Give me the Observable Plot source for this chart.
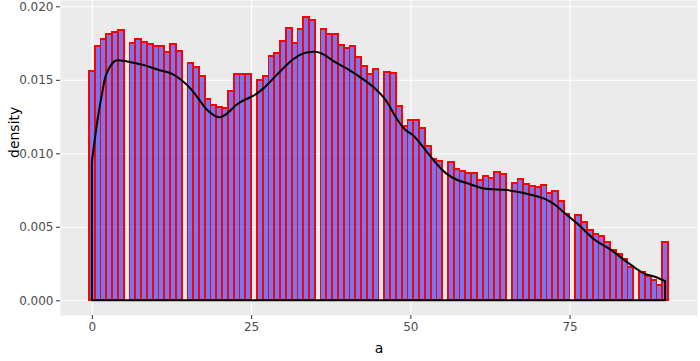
<!DOCTYPE html>
<html><head><meta charset="utf-8">
<script src="https://cdn.jsdelivr.net/npm/d3@7"></script>
<script src="https://cdn.jsdelivr.net/npm/@observablehq/plot@0.6"></script>
<style>body{margin:0;background:#fff} svg{display:block}</style>
</head><body><div id="chart"></div>
<script>
// histogram: 100 bins centred on 0 .. 90 (width 90/99), density per bin (0 = empty bin)
const binCount = 100;
const dataMin = 0, dataMax = 90;
const binDensity = [
  0.01562, 0.01728, 0.01780, 0.01810, 0.01827, 0.01837, 0,       0.01748, 0.01776, 0.01755,
  0.01741, 0.01728, 0.01728, 0.01687, 0.01741, 0.01694, 0,       0.01614, 0.01589, 0.01524,
  0.01367, 0.01331, 0.01317, 0.01310, 0.01422, 0.01537, 0.01537, 0.01537, 0,       0.01497,
  0.01524, 0.01660, 0.01680, 0.01766, 0.01850, 0.01752, 0.01844, 0.01925, 0.01905, 0,
  0.01848, 0.01810, 0.01810, 0.01735, 0.01714, 0.01728, 0.01653, 0.01592, 0.01537, 0.01571,
  0,       0.01551, 0.01544, 0.01324, 0.01184, 0.01224, 0.01224, 0.01170, 0.01048, 0.00963,
  0.00950, 0,       0.00943, 0.00895, 0.00882, 0.00868, 0.00864, 0.00820, 0.00844, 0.00830,
  0.00871, 0.00857, 0,       0.00796, 0.00823, 0.00789, 0.00780, 0.00773, 0.00782, 0.00728,
  0.00744, 0.00678, 0.00587, 0,       0.00578, 0.00535, 0.00480, 0.00449, 0.00439, 0.00395,
  0.00340, 0.00313, 0.00283, 0.00229, 0,       0.00190, 0.00167, 0.00140, 0.00106, 0.00399
];
// kernel density estimate
const curveX = [0, 0.9, 1.7, 2.2, 3.0, 3.7, 4.8, 6.1, 8.2, 10.3, 12.6, 14.0, 15.5, 17.1, 18.0, 19.3, 20.1,
  21.2, 22.7, 23.8, 25.3, 26.9, 28.5, 30.1, 31.6, 33.2, 34.5, 35.3, 36.5, 38.2, 40.3, 42.4, 44.5, 45.8,
  46.6, 47.8, 49.2, 50.5, 52.6, 54.1, 55.7, 57.3, 59.4, 61.5, 65.2, 67.8, 71.1, 72.7, 74.3, 76.5, 79.0,
  81.6, 83.7, 85.3, 86.8, 88.4, 90];
const curveY = [0.0094, 0.0123, 0.0143, 0.0153, 0.0160, 0.0163, 0.0163, 0.0162, 0.0160, 0.0157, 0.0154,
  0.0150, 0.0144, 0.0135, 0.0130, 0.01255, 0.01245, 0.0127, 0.0133, 0.0136, 0.0139, 0.0144, 0.0151, 0.0158,
  0.0164, 0.0168, 0.0169, 0.0169, 0.0167, 0.0162, 0.0157, 0.0151, 0.0144, 0.0138, 0.0133, 0.0124, 0.0116,
  0.0112, 0.0101, 0.0093, 0.0086, 0.0082, 0.0079, 0.0076, 0.0075, 0.0073, 0.0069, 0.0065, 0.0059, 0.0051,
  0.0041, 0.0034, 0.0027, 0.0022, 0.0018, 0.0016, 0.0013];
const xTicks = [0, 25, 50, 75];
const yTicks = [0, 0.005, 0.010, 0.015, 0.020];
const xLabel = "a";
const yLabel = "density";

const w = (dataMax - dataMin) / (binCount - 1);
const bins = binDensity
  .map((d, k) => ({x1: dataMin + (k - 0.5) * w, x2: dataMin + (k + 0.5) * w, d}))
  .filter(b => b.d > 0);
const dens = curveX.map((x, i) => ({x, y: curveY[i]}));

const plot = Plot.plot({
  width: 700, height: 361,
  marginLeft: 60, marginRight: 3, marginTop: 0, marginBottom: 46,
  style: {fontFamily: "DejaVu Sans", fontSize: "12px", background: "#fff", overflow: "visible"},
  x: {domain: [-5, 95]},
  y: {domain: [-0.001, 0.02043]},
  marks: [
    Plot.frame({fill: "#EBEBEB", stroke: "none"}),
    Plot.gridX(xTicks, {stroke: "#fff", strokeOpacity: 1, strokeWidth: 1.1}),
    Plot.gridY(yTicks, {stroke: "#fff", strokeOpacity: 1, strokeWidth: 1.1}),
    Plot.rect(bins, {x1: "x1", x2: "x2", y1: 0, y2: "d", fill: "blue", fillOpacity: 0.5, stroke: "red", strokeWidth: 1.8, shapeRendering: "crispEdges"}),
    Plot.areaY(dens, {x: "x", y: "y", fill: "none", stroke: "black", strokeWidth: 2, curve: "catmull-rom"}),
    Plot.axisX(xTicks, {tickSize: 4, tickPadding: 3, stroke: "#333", fill: "#4D4D4D", label: null, fontSize: 12}),
    Plot.axisY(yTicks, {tickSize: 4, tickPadding: 3, stroke: "#333", fill: "#4D4D4D", label: null, fontSize: 12, tickFormat: d3.format(".3f")}),
    Plot.text([yLabel], {text: d => d, frameAnchor: "left", dx: -45.5, rotate: -90, fontSize: 14, fill: "#000"}),
    Plot.text([xLabel], {text: d => d, frameAnchor: "bottom", dy: 37, fontSize: 14, fill: "#000"})
  ]
});
document.getElementById("chart").appendChild(plot);
</script>
</body></html>
